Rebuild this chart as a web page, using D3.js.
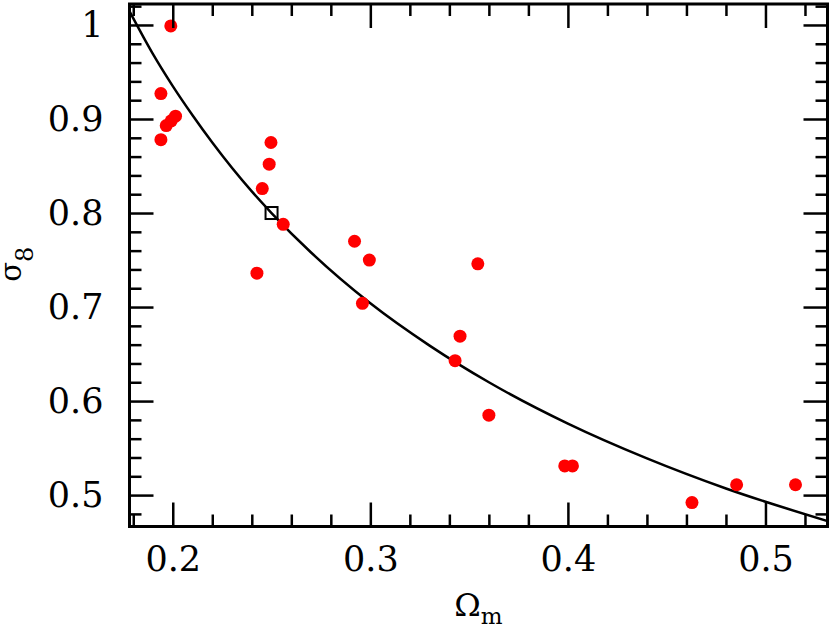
<!DOCTYPE html>
<html>
<head>
<meta charset="utf-8">
<script src="https://cdn.jsdelivr.net/npm/d3@7"></script>
<style>
  body { margin: 0; background: #fff; }
  svg text { font-family: "DejaVu Serif", serif; fill: #000; }
</style>
</head>
<body>
<svg id="chart" width="830" height="631"></svg>
<script>
// data points (Omega_m, sigma_8)
var omegaM = [0.199, 0.194, 0.2014, 0.1992, 0.1967, 0.194, 0.2497, 0.2488, 0.2453, 0.2559,
	0.292, 0.2426, 0.2995, 0.296, 0.3544, 0.3454, 0.3429, 0.360, 0.3984, 0.4023,
	0.4628, 0.4854, 0.5152];
var sigma8 = [0.999, 0.927, 0.903, 0.898, 0.893, 0.878, 0.875, 0.852, 0.826, 0.788,
	0.770, 0.736, 0.750, 0.704, 0.746, 0.669, 0.643, 0.585, 0.531, 0.531,
	0.492, 0.511, 0.511];

// fiducial model marker
var fidOmega = [0.25];
var fidSigma = [0.80];

// curve
var curveOmega = [0.178, 0.19, 0.2, 0.21, 0.22, 0.24, 0.25, 0.27, 0.3, 0.33, 0.36, 0.4, 0.44, 0.48, 0.532];
var curveSigma = [1.015, 0.969, 0.935, 0.904, 0.875, 0.823, 0.800, 0.758, 0.704, 0.659, 0.620, 0.576, 0.539, 0.507, 0.472];

var xMajor = [0.2, 0.3, 0.4, 0.5];
var yMajor = [0.5, 0.6, 0.7, 0.8, 0.9, 1.0];
var xLabels = ["0.2", "0.3", "0.4", "0.5"];
var yLabels = ["0.5", "0.6", "0.7", "0.8", "0.9", "1"];

var pLeft = 129.5, pRight = 827.5, pTop = 4, pBottom = 526.5;
var majorLen = 24, minorLen = 12;

var svg = d3.select('#chart');

var x = d3.scaleLinear().domain([0.1781, 0.5314]).range([pLeft, pRight]);
var y = d3.scaleLinear().domain([0.4666, 1.0223]).range([pBottom, pTop]);

var xMinor = d3.range(0.18, 0.531, 0.02).map(d => Math.round(d*100)/100)
	.filter(d => xMajor.indexOf(d) < 0);
var yMinor = d3.range(0.48, 1.021, 0.02).map(d => Math.round(d*100)/100)
	.filter(d => yMajor.indexOf(d) < 0);

var plot = svg.append('g');
plot.append('clipPath').attr('id', 'clip')
	.append('rect')
		.attr('x', pLeft).attr('y', pTop)
		.attr('width', pRight - pLeft).attr('height', pBottom - pTop);

// curve
var curvePts = curveOmega.map((d, i) => [d, curveSigma[i]]);
plot.append('path')
	.datum(curvePts)
	.attr('clip-path', 'url(#clip)')
	.attr('fill', 'none')
	.attr('stroke', '#000')
	.attr('stroke-width', 2.5)
	.attr('d', d3.line().x(d => x(d[0])).y(d => y(d[1])).curve(d3.curveMonotoneX));

// points
plot.selectAll('circle.pt')
	.data(omegaM.map((d, i) => [d, sigma8[i]]))
	.enter().append('circle')
		.attr('class', 'pt')
		.attr('cx', d => x(d[0]))
		.attr('cy', d => y(d[1]))
		.attr('r', 6.5)
		.attr('fill', '#ff0000');

// square marker
plot.selectAll('rect.fid')
	.data(fidOmega.map((d, i) => [d, fidSigma[i]]))
	.enter().append('rect')
		.attr('class', 'fid')
		.attr('x', d => x(d[0]) - 6)
		.attr('y', d => y(d[1]) - 6)
		.attr('width', 12)
		.attr('height', 12)
		.attr('fill', 'none')
		.attr('stroke', '#000')
		.attr('stroke-width', 2);

// ticks on all four sides, pointing inward
function styleAxis(g){
	g.select('.domain').remove();
	g.selectAll('.tick line').attr('stroke', '#000').attr('stroke-width', 2.5);
}

function drawTicks(vals, len, withLabels, labels){
	var fmt = d => labels[vals.indexOf(d)];
	svg.append('g').attr('transform', `translate(0,${pBottom})`)
		.call(d3.axisBottom(x).tickValues(vals).tickSize(-len).tickPadding(withLabels ? 20 : 0)
			.tickFormat(withLabels ? fmt : ''))
		.call(styleAxis);
	svg.append('g').attr('transform', `translate(0,${pTop})`)
		.call(d3.axisTop(x).tickValues(vals).tickSize(-len).tickFormat(''))
		.call(styleAxis);
}
function drawYTicks(vals, len, withLabels, labels){
	var fmt = d => labels[vals.indexOf(d)];
	svg.append('g').attr('transform', `translate(${pLeft},0)`)
		.call(d3.axisLeft(y).tickValues(vals).tickSize(-len).tickPadding(withLabels ? 26 : 0)
			.tickFormat(withLabels ? fmt : ''))
		.call(styleAxis);
	svg.append('g').attr('transform', `translate(${pRight},0)`)
		.call(d3.axisRight(y).tickValues(vals).tickSize(-len).tickFormat(''))
		.call(styleAxis);
}

drawTicks(xMajor, majorLen, true, xLabels);
drawTicks(xMinor, minorLen, false, []);
drawYTicks(yMajor, majorLen, true, yLabels);
drawYTicks(yMinor, minorLen, false, []);

svg.selectAll('.tick text')
	.attr('font-family', '"DejaVu Serif", serif')
	.attr('font-size', 35)
	.attr('fill', '#000');

// frame
svg.append('rect')
	.attr('x', pLeft).attr('y', pTop)
	.attr('width', pRight - pLeft).attr('height', pBottom - pTop)
	.attr('fill', 'none')
	.attr('stroke', '#000')
	.attr('stroke-width', 3);

// axis titles
var xt = svg.append('text')
	.attr('x', (pLeft + pRight) / 2)
	.attr('y', 616)
	.attr('text-anchor', 'middle')
	.attr('font-size', 32);
xt.append('tspan').text('Ω');
xt.append('tspan').attr('font-size', 23).attr('dy', 8).text('m');

var yt = svg.append('text')
	.attr('transform', `translate(21,${(pTop + pBottom) / 2 - 1}) rotate(-90)`)
	.attr('text-anchor', 'middle')
	.attr('font-size', 29);
yt.append('tspan').text('σ');
yt.append('tspan').attr('font-size', 24).attr('dy', 12).text('8');
</script>
</body>
</html>
